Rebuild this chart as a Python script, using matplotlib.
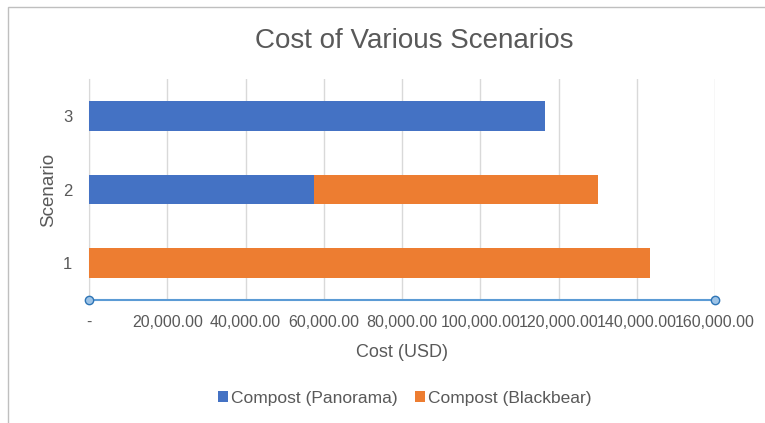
import matplotlib
matplotlib.use("Agg")
import matplotlib.pyplot as plt
from matplotlib.patches import Rectangle
from matplotlib.ticker import FuncFormatter

plt.rcParams['font.family'] = ['Liberation Sans', 'DejaVu Sans']

scenarios = ["1", "2", "3"]
panorama = [0, 57500, 116600]
blackbear = [143300, 72650, 0]
series_names = ["Compost (Panorama)", "Compost (Blackbear)"]
xticks = [0, 20000, 40000, 60000, 80000, 100000, 120000, 140000, 160000]

BLUE = "#4472C4"
ORANGE = "#ED7D31"
TXT = "#595959"

fig = plt.figure(figsize=(7.65, 4.23), dpi=100)
fig.patches.append(Rectangle((8/765, -0.1), 1.2, 1 - 7/423 + 0.1, transform=fig.transFigure,
                             fill=False, edgecolor="#BFBFBF", linewidth=1.0))
ax = fig.add_axes([89/765, 1 - 300/423, (715 - 89)/765, (300 - 79)/423])

y = list(range(1, len(scenarios) + 1))
ax.barh(y, panorama, height=0.4, color=BLUE, label=series_names[0], zorder=3)
ax.barh(y, blackbear, left=panorama, height=0.4, color=ORANGE, label=series_names[1], zorder=3)

ax.set_xlim(0, 160000)
ax.set_ylim(0.5, 3.5)
ax.set_yticks(y)
ax.set_yticklabels(scenarios)
ax.set_xticks(xticks)
ax.xaxis.set_major_formatter(FuncFormatter(lambda v, p: "-" if v == 0 else f"{v:,.2f}"))
ax.grid(axis="x", color="#D9D9D9", linewidth=1, zorder=0)
for s in ["top", "right", "bottom"]:
    ax.spines[s].set_visible(False)
ax.spines["left"].set_color("#D9D9D9")
ax.tick_params(axis="x", length=0, labelsize=11.5, labelcolor=TXT, pad=11)
ax.tick_params(axis="y", length=0, labelsize=12, labelcolor=TXT, pad=12)

# selected-axis style line with end markers
ax.plot([0, 1], [0, 0], transform=ax.transAxes, color="#5B9BD5", linewidth=1.5,
        marker="o", markersize=6, markerfacecolor="#9DC3E6", markeredgecolor="#2E75B6",
        clip_on=False, zorder=5)

ax.set_xlabel("Cost (USD)", fontsize=13, color=TXT, labelpad=10)
ax.set_ylabel("Scenario", fontsize=13.5, color=TXT, labelpad=4)
fig.text(414/765, 1 - 41/423, "Cost of Various Scenarios",
         ha="center", va="center", fontsize=20, color=TXT)

leg = fig.legend(loc="center", bbox_to_anchor=(405/765, 1 - 398/423), ncol=2, frameon=False,
                 fontsize=12.5, handlelength=0.55, handleheight=0.55, handletextpad=0.2,
                 columnspacing=1.0)
for t in leg.get_texts():
    t.set_color(TXT)

fig.savefig("out.png", dpi=100)
